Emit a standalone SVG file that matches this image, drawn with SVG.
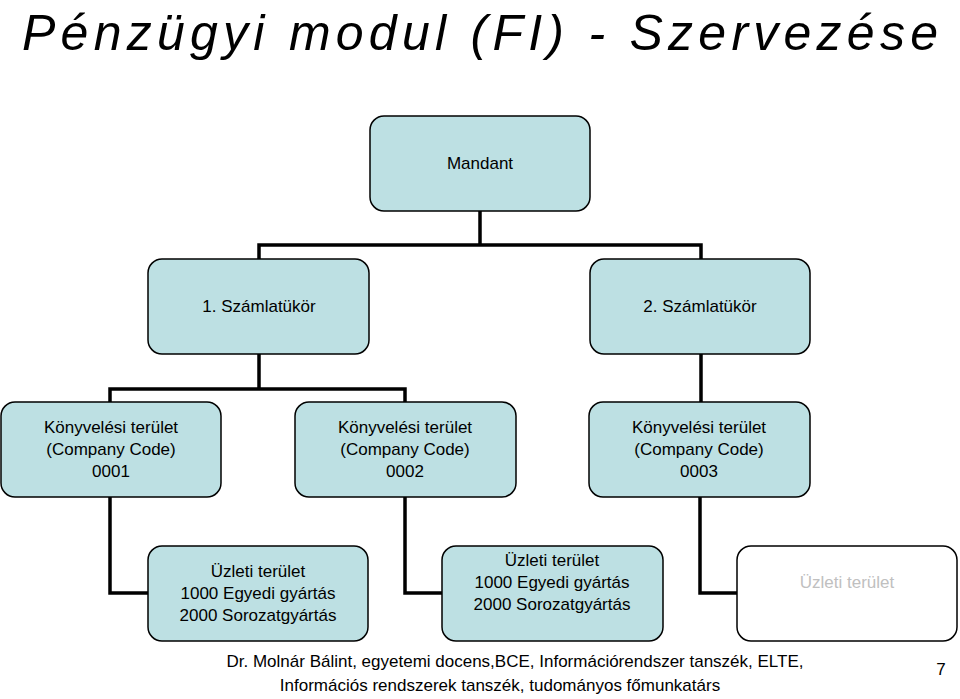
<svg xmlns="http://www.w3.org/2000/svg" width="960" height="699" viewBox="0 0 960 699">
<style>
.b{fill:#bde0e3;stroke:#000;stroke-width:1.5}
.w{fill:#fff;stroke:#000;stroke-width:1.5}
.t{font-family:"Liberation Sans",Arial,sans-serif;font-size:17px;text-anchor:middle;fill:#000}
.g{fill:#c0c0c0}
.c{fill:none;stroke:#000;stroke-width:3.5}
</style>
<rect width="960" height="699" fill="#fff"/>
<text x="480" y="50" font-family="Liberation Sans,Arial,sans-serif" font-style="italic" font-size="50" text-anchor="middle" textLength="916">Pénzügyi modul (FI) - Szervezése</text>
<g id="connectors">
<path class="c" d="M480 211V245M259 259V245H701V259M259 354V389M110 402V389H405V402M701 354V402M110 497V593H148M405 497V593H442M700 497V593H737"/>
</g>
<g id="mandant"><rect class="b" x="370" y="116" width="220" height="95" rx="14"/><text class="t" x="480" y="169">Mandant</text></g>
<g id="sz1"><rect class="b" x="148" y="259" width="221" height="95" rx="14"/><text class="t" x="259" y="312">1. Számlatükör</text></g>
<g id="sz2"><rect class="b" x="590" y="259" width="220" height="95" rx="14"/><text class="t" x="700" y="312">2. Számlatükör</text></g>
<g id="cc1"><rect class="b" x="1" y="402" width="220" height="95" rx="14"/><text class="t" x="111" y="433">Könyvelési terület<tspan x="111" dy="22">(Company Code)</tspan><tspan x="111" dy="22">0001</tspan></text></g>
<g id="cc2"><rect class="b" x="295" y="402" width="221" height="95" rx="14"/><text class="t" x="405" y="433">Könyvelési terület<tspan x="405" dy="22">(Company Code)</tspan><tspan x="405" dy="22">0002</tspan></text></g>
<g id="cc3"><rect class="b" x="589" y="402" width="221" height="95" rx="14"/><text class="t" x="699" y="433">Könyvelési terület<tspan x="699" dy="22">(Company Code)</tspan><tspan x="699" dy="22">0003</tspan></text></g>
<g id="u1"><rect class="b" x="148" y="546" width="220" height="95" rx="14"/><text class="t" x="258" y="577">Üzleti terület<tspan x="258" dy="22">1000 Egyedi gyártás</tspan><tspan x="258" dy="22">2000 Sorozatgyártás</tspan></text></g>
<g id="u2"><rect class="b" x="442" y="546" width="221" height="95" rx="14"/><text class="t" x="552" y="566">Üzleti terület<tspan x="552" dy="22">1000 Egyedi gyártás</tspan><tspan x="552" dy="22">2000 Sorozatgyártás</tspan></text></g>
<g id="u3"><rect class="w" x="737" y="546" width="220" height="95" rx="14"/><text class="t g" x="847" y="588">Üzleti terület</text></g>
<text class="t" x="515" y="667" font-size="18">Dr. Molnár Bálint, egyetemi docens,BCE, Információrendszer tanszék, ELTE,</text>
<text class="t" x="500" y="691" font-size="18">Információs rendszerek tanszék, tudományos főmunkatárs</text>
<text class="t" x="941" y="675" font-size="16">7</text>
</svg>
